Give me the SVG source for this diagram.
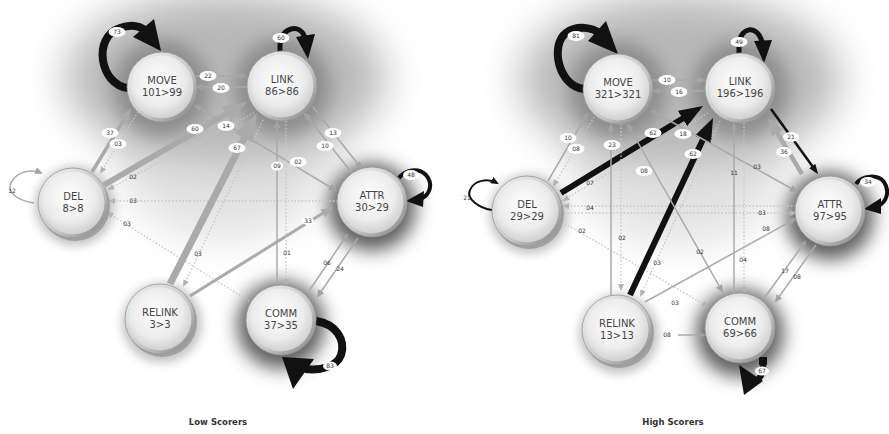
<svg xmlns="http://www.w3.org/2000/svg" width="889" height="434" viewBox="0 0 889 434">
<defs>
<filter id="b20" x="-60%" y="-60%" width="220%" height="220%"><feGaussianBlur stdDeviation="20"/></filter>
<filter id="b10" x="-60%" y="-60%" width="220%" height="220%"><feGaussianBlur stdDeviation="9"/></filter>
<filter id="b5" x="-60%" y="-60%" width="220%" height="220%"><feGaussianBlur stdDeviation="5"/></filter>
<radialGradient id="face" cx="45%" cy="40%" r="62%"><stop offset="0" stop-color="#ffffff"/><stop offset="0.65" stop-color="#ececec"/><stop offset="1" stop-color="#cdcdcd"/></radialGradient>
<linearGradient id="rim" x1="0" y1="0" x2="1" y2="1"><stop offset="0" stop-color="#f4f4f4"/><stop offset="0.6" stop-color="#c4c4c4"/><stop offset="1" stop-color="#7e7e7e"/></linearGradient>
<marker id="ag" viewBox="0 0 8 7" refX="6" refY="3.5" markerWidth="8" markerHeight="7" markerUnits="userSpaceOnUse" orient="auto-start-reverse"><path d="M0,0 L8,3.5 L0,7 z" fill="#a3a3a3"/></marker>
<marker id="ad" viewBox="0 0 7 6" refX="5" refY="3" markerWidth="7" markerHeight="6" markerUnits="userSpaceOnUse" orient="auto"><path d="M0,0 L7,3 L0,6 z" fill="#b3b3b3"/></marker>
<marker id="ak" viewBox="0 0 8 7" refX="6" refY="3.5" markerWidth="8" markerHeight="7" markerUnits="userSpaceOnUse" orient="auto"><path d="M0,0 L8,3.5 L0,7 z" fill="#111"/></marker>
<marker id="agw" viewBox="0 0 12 9" refX="7" refY="4.5" markerWidth="4" markerHeight="3" orient="auto"><path d="M0,0 L12,4.5 L0,9 z" fill="#aaaaaa"/></marker>
<marker id="akw" viewBox="0 0 12 9" refX="7" refY="4.5" markerWidth="4" markerHeight="3" orient="auto"><path d="M0,0 L12,4.5 L0,9 z" fill="#111"/></marker>
</defs>
<style>
.rim{fill:url(#rim);stroke:#999;stroke-width:.8}
.face{fill:url(#face)}
.stack{fill:#a0a0a0}
.nt{font-family:"DejaVu Sans",Verdana,sans-serif;font-size:10px;fill:#444;text-anchor:middle}
.e{fill:none;stroke:#aaaaaa;stroke-width:1.5;marker-end:url(#ag)}
.eb{marker-start:url(#ag)}
.d{fill:none;stroke:#c6c6c6;stroke-width:1.3;stroke-dasharray:1.5 2;marker-end:url(#ad)}
.t{fill:none;stroke:#aaaaaa;marker-end:url(#agw)}
.k{fill:none;stroke:#111;marker-end:url(#akw)}
.kl{fill:none;stroke:#111;stroke-width:2;marker-end:url(#ak)}
.loop{fill:none;stroke:#111}
.ah{fill:#111}
.lb ellipse{fill:#fff}
.lb text,.pl{font-family:"DejaVu Sans",sans-serif;font-size:6px;fill:#333;text-anchor:middle}
.cap{font-family:"DejaVu Sans",sans-serif;font-size:8.5px;font-weight:bold;fill:#333;text-anchor:middle}
</style>
<rect width="889" height="434" fill="#fff"/>
<g id="background">
<ellipse cx="225" cy="150" rx="110" ry="90" fill="#e2e2e2" filter="url(#b20)"/>
<ellipse cx="225" cy="78" rx="160" ry="85" fill="#b8b8b8" filter="url(#b20)"/>
<circle cx="162" cy="88" r="48" fill="#8c8c8c" filter="url(#b10)"/>
<circle cx="282" cy="87" r="48" fill="#8c8c8c" filter="url(#b10)"/>
<circle cx="372" cy="207" r="44" fill="#5e5e5e" filter="url(#b10)"/>
<circle cx="281" cy="325" r="44" fill="#5e5e5e" filter="url(#b10)"/>
<circle cx="75" cy="206" r="40" fill="#c4c4c4" filter="url(#b5)"/>
<circle cx="162" cy="323" r="40" fill="#c4c4c4" filter="url(#b5)"/>
<ellipse cx="680" cy="155" rx="110" ry="90" fill="#e2e2e2" filter="url(#b20)"/>
<ellipse cx="680" cy="80" rx="160" ry="85" fill="#b8b8b8" filter="url(#b20)"/>
<circle cx="618" cy="90" r="48" fill="#8c8c8c" filter="url(#b10)"/>
<circle cx="740" cy="89" r="48" fill="#8c8c8c" filter="url(#b10)"/>
<circle cx="830" cy="216" r="44" fill="#5e5e5e" filter="url(#b10)"/>
<circle cx="740" cy="333" r="44" fill="#5e5e5e" filter="url(#b10)"/>
<circle cx="529" cy="214" r="40" fill="#c4c4c4" filter="url(#b5)"/>
<circle cx="619" cy="334" r="40" fill="#c4c4c4" filter="url(#b5)"/>
</g>
<g id="connectors-low">
<path class="loop" stroke-width="8" d="M128,88 C100,85 92,37 120,28 C131,24 140,26 146,31"/>
<polygon class="ah" points="154,19 133,37 161,51"/>
<path class="loop" stroke-width="5" d="M280,53 L280,44 C281,28 300,22 305,38"/>
<polygon class="ah" points="296,37 315,34 308,59"/>
<line class="e" x1="196" y1="76" x2="245" y2="76"/>
<line class="e" x1="248" y1="87" x2="197" y2="87"/>
<line class="t" stroke-width="3.5" x1="92" y1="172" x2="128" y2="113"/>
<line class="d" x1="138" y1="112" x2="101" y2="172"/>
<line class="t" stroke-width="6" x1="104" y1="185" x2="238.3" y2="107"/>
<line class="d" x1="254" y1="113" x2="109" y2="189"/>
<line class="d" x1="338" y1="201" x2="110" y2="201"/>
<line class="d" x1="252" y1="303" x2="108" y2="213"/>
<path class="e" d="M34,203 C14,200 6,190 12,181 C18,171 32,169 41,173"/>
<line class="t" stroke-width="7" x1="170" y1="284" x2="251.7" y2="123.4"/>
<line class="d" x1="263" y1="120" x2="184" y2="285"/>
<line class="t" stroke-width="3" x1="190" y1="296" x2="328.8" y2="209.6"/>
<line class="e eb" x1="196" y1="106" x2="335" y2="190"/>
<line class="e" x1="313" y1="107" x2="361" y2="168"/>
<line class="e" x1="352" y1="173" x2="305" y2="114"/>
<line class="e" x1="277" y1="286" x2="277" y2="122"/>
<line class="d" x1="286" y1="121" x2="286" y2="284"/>
<line class="e" x1="309" y1="291" x2="347" y2="235"/>
<line class="e" x1="358" y1="238" x2="318" y2="296"/>
<path class="loop" stroke-width="4" d="M399,178 C405,170 418,167 426,175 C433,183 431,194 421,199"/>
<polygon class="ah" points="424,191 423,207 406,201"/>
<path class="loop" stroke-width="8" d="M316,321 C336,324 346,340 341,355 C337,366 322,371 305,369"/>
<polygon class="ah" points="282,357 314,359 293,389"/>
<g class="lb" transform="translate(117,32)"><ellipse rx="8.5" ry="5"/><text y="2">73</text></g>
<g class="lb" transform="translate(281,38)"><ellipse rx="8.5" ry="5"/><text y="2">60</text></g>
<g class="lb" transform="translate(208,76)"><ellipse rx="8.5" ry="5"/><text y="2">22</text></g>
<g class="lb" transform="translate(221,88)"><ellipse rx="8.5" ry="5"/><text y="2">20</text></g>
<g class="lb" transform="translate(110,133)"><ellipse rx="8.5" ry="5"/><text y="2">37</text></g>
<g class="lb" transform="translate(118,144)"><ellipse rx="8.5" ry="5"/><text y="2">03</text></g>
<g class="lb" transform="translate(195,129)"><ellipse rx="8.5" ry="5"/><text y="2">60</text></g>
<g class="lb" transform="translate(226,126)"><ellipse rx="8.5" ry="5"/><text y="2">14</text></g>
<g class="lb" transform="translate(237,148)"><ellipse rx="8.5" ry="5"/><text y="2">67</text></g>
<g class="lb" transform="translate(298,162)"><ellipse rx="8.5" ry="5"/><text y="2">02</text></g>
<g class="lb" transform="translate(333,133)"><ellipse rx="8.5" ry="5"/><text y="2">13</text></g>
<g class="lb" transform="translate(325,146)"><ellipse rx="8.5" ry="5"/><text y="2">10</text></g>
<g class="lb" transform="translate(277,166)"><ellipse rx="6" ry="4.5"/><text y="2">09</text></g>
<g class="lb" transform="translate(411,175)"><ellipse rx="8" ry="5"/><text y="2">48</text></g>
<g class="lb" transform="translate(330,366)"><ellipse rx="7" ry="4.5"/><text y="2">83</text></g>
<g class="lb" transform="translate(308,221)"><ellipse rx="6" ry="4"/><text y="2">33</text></g>
<text class="pl" x="133" y="179">02</text>
<text class="pl" x="133" y="203">03</text>
<text class="pl" x="127" y="226">03</text>
<text class="pl" x="12" y="193">12</text>
<text class="pl" x="198" y="256">03</text>
<text class="pl" x="287" y="255">01</text>
<text class="pl" x="327" y="265">06</text>
<text class="pl" x="340" y="271">24</text>
</g>
<g id="connectors-high">
<path class="loop" stroke-width="8" d="M584,89 C558,86 550,45 566,33 C577,25 592,27 601,34"/>
<polygon class="ah" points="606,21 588,41 618,54"/>
<path class="loop" stroke-width="5" d="M739,55 L739,44 C740,28 757,23 762,42"/>
<polygon class="ah" points="754,41 772,40 764,63"/>
<line class="e" x1="652" y1="80" x2="704" y2="80"/>
<line class="e" x1="706" y1="91" x2="654" y2="91"/>
<line class="e" x1="548" y1="181" x2="587" y2="114"/>
<line class="d" x1="594" y1="117" x2="554" y2="185"/>
<line class="k" stroke-width="6" x1="561" y1="193" x2="694.5" y2="111.2"/>
<line class="d" x1="708" y1="113" x2="564" y2="200"/>
<line class="d" x1="796" y1="206" x2="564" y2="206"/>
<line class="d" x1="564" y1="213" x2="795" y2="213"/>
<line class="d" x1="562" y1="222" x2="707" y2="306"/>
<path class="kl" d="M492,210 C478,208 466,198 470,190 C474,180 488,178 497,183"/>
<line class="e" x1="611" y1="295" x2="611" y2="125"/>
<line class="d" x1="621" y1="124" x2="621" y2="289"/>
<line class="k" stroke-width="6" x1="630" y1="295" x2="708.8" y2="127"/>
<line class="d" x1="720" y1="121" x2="641" y2="295"/>
<line class="e eb" x1="652" y1="111" x2="796" y2="191"/>
<line class="e eb" x1="628" y1="125" x2="722" y2="291"/>
<line class="e" x1="734" y1="294" x2="734" y2="124"/>
<line class="d" x1="744" y1="123" x2="744" y2="292"/>
<line class="e" x1="645" y1="302" x2="795" y2="219"/>
<line class="e" x1="678" y1="335" x2="704" y2="335"/>
<line class="e" x1="765" y1="297" x2="805" y2="242"/>
<line class="e" x1="816" y1="245" x2="776" y2="301"/>
<line class="k" stroke-width="2.5" x1="771" y1="109" x2="815.7" y2="170.8"/>
<line class="t" stroke-width="4.5" x1="802" y1="174" x2="772" y2="124.3"/>
<path class="loop" stroke-width="4" d="M856,184 C862,175 878,174 884,182 C890,191 887,202 878,206"/>
<polygon class="ah" points="881,198 881,214 864,209"/>
<rect x="759" y="357" width="8" height="8" fill="#111"/>
<path class="loop" stroke-width="6" d="M763,362 C764,372 760,380 752,384"/>
<polygon class="ah" points="739,365 763,381 744,395"/>
<g class="lb" transform="translate(576,36)"><ellipse rx="8.5" ry="5"/><text y="2">81</text></g>
<g class="lb" transform="translate(739,42)"><ellipse rx="8.5" ry="5"/><text y="2">49</text></g>
<g class="lb" transform="translate(667,80)"><ellipse rx="8.5" ry="5"/><text y="2">10</text></g>
<g class="lb" transform="translate(679,92)"><ellipse rx="8.5" ry="5"/><text y="2">16</text></g>
<g class="lb" transform="translate(568,138)"><ellipse rx="8.5" ry="5"/><text y="2">10</text></g>
<g class="lb" transform="translate(576,149)"><ellipse rx="8.5" ry="5"/><text y="2">08</text></g>
<g class="lb" transform="translate(612,145)"><ellipse rx="8.5" ry="5"/><text y="2">23</text></g>
<g class="lb" transform="translate(653,133)"><ellipse rx="8.5" ry="5"/><text y="2">62</text></g>
<g class="lb" transform="translate(683,134)"><ellipse rx="8.5" ry="5"/><text y="2">18</text></g>
<g class="lb" transform="translate(693,154)"><ellipse rx="8.5" ry="5"/><text y="2">62</text></g>
<g class="lb" transform="translate(644,171)"><ellipse rx="8.5" ry="5"/><text y="2">08</text></g>
<g class="lb" transform="translate(791,137)"><ellipse rx="8" ry="5"/><text y="2">21</text></g>
<g class="lb" transform="translate(784,152)"><ellipse rx="8" ry="5"/><text y="2">36</text></g>
<g class="lb" transform="translate(868,182)"><ellipse rx="8" ry="5"/><text y="2">34</text></g>
<g class="lb" transform="translate(762,371)"><ellipse rx="7" ry="4.5"/><text y="2">67</text></g>
<text class="pl" x="590" y="185">07</text>
<text class="pl" x="590" y="210">04</text>
<text class="pl" x="582" y="233">02</text>
<text class="pl" x="467" y="200">21</text>
<text class="pl" x="622" y="240">02</text>
<text class="pl" x="657" y="265">03</text>
<text class="pl" x="757" y="169">03</text>
<text class="pl" x="734" y="175">11</text>
<text class="pl" x="762" y="215">03</text>
<text class="pl" x="766" y="231">08</text>
<text class="pl" x="700" y="254">02</text>
<text class="pl" x="743" y="262">04</text>
<text class="pl" x="785" y="273">17</text>
<text class="pl" x="797" y="279">08</text>
<text class="pl" x="675" y="305">03</text>
<text class="pl" x="667" y="337">08</text>
</g>
<g id="low-move" transform="translate(162,87)"><circle r="35" class="rim"/><circle r="31.5" class="face"/><text class="nt" y="-3.5">MOVE</text><text class="nt" y="8.5">101&gt;99</text></g>
<g id="low-link" transform="translate(282,86)"><circle r="35" class="rim"/><circle r="31.5" class="face"/><text class="nt" y="-3.5">LINK</text><text class="nt" y="8.5">86&gt;86</text></g>
<g id="low-del" transform="translate(73,203)"><circle cx="2" cy="3" r="35" class="stack"/><circle r="35" class="rim"/><circle r="31.5" class="face"/><text class="nt" y="-3.5">DEL</text><text class="nt" y="8.5">8&gt;8</text></g>
<g id="low-attr" transform="translate(372,202)"><circle r="35" class="rim"/><circle r="31.5" class="face"/><text class="nt" y="-3.5">ATTR</text><text class="nt" y="8.5">30&gt;29</text></g>
<g id="low-relink" transform="translate(160,319)"><circle cx="2" cy="3" r="35" class="stack"/><circle r="35" class="rim"/><circle r="31.5" class="face"/><text class="nt" y="-3.5">RELINK</text><text class="nt" y="8.5">3&gt;3</text></g>
<g id="low-comm" transform="translate(281,320)"><circle r="35" class="rim"/><circle r="31.5" class="face"/><text class="nt" y="-3.5">COMM</text><text class="nt" y="8.5">37&gt;35</text></g>
<g id="high-move" transform="translate(618,89)"><circle r="35" class="rim"/><circle r="31.5" class="face"/><text class="nt" y="-3.5">MOVE</text><text class="nt" y="8.5">321&gt;321</text></g>
<g id="high-link" transform="translate(740,88)"><circle r="35" class="rim"/><circle r="31.5" class="face"/><text class="nt" y="-3.5">LINK</text><text class="nt" y="8.5">196&gt;196</text></g>
<g id="high-del" transform="translate(527,211)"><circle cx="2" cy="3" r="35" class="stack"/><circle r="35" class="rim"/><circle r="31.5" class="face"/><text class="nt" y="-3.5">DEL</text><text class="nt" y="8.5">29&gt;29</text></g>
<g id="high-attr" transform="translate(830,211)"><circle r="35" class="rim"/><circle r="31.5" class="face"/><text class="nt" y="-3.5">ATTR</text><text class="nt" y="8.5">97&gt;95</text></g>
<g id="high-relink" transform="translate(617,330)"><circle cx="2" cy="3" r="35" class="stack"/><circle r="35" class="rim"/><circle r="31.5" class="face"/><text class="nt" y="-3.5">RELINK</text><text class="nt" y="8.5">13&gt;13</text></g>
<g id="high-comm" transform="translate(740,328)"><circle r="35" class="rim"/><circle r="31.5" class="face"/><text class="nt" y="-3.5">COMM</text><text class="nt" y="8.5">69&gt;66</text></g>
<g id="captions">
<text class="cap" x="218" y="425">Low Scorers</text>
<text class="cap" x="673" y="425">High Scorers</text>
</g>
</svg>
